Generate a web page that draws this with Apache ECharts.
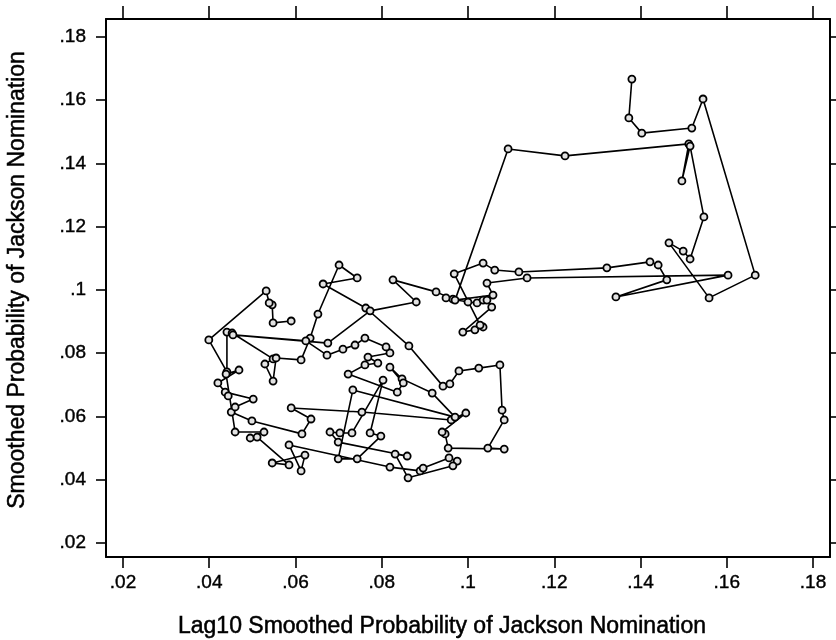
<!DOCTYPE html>
<html>
<head>
<meta charset="utf-8">
<script src="https://cdn.jsdelivr.net/npm/echarts@6/dist/echarts.min.js"></script>
<style>
  html, body { margin: 0; padding: 0; background: #fff; }
  #chart { width: 836px; height: 640px; }
</style>
</head>
<body>
<div id="chart"></div>
<script>
// tick positions (both axes use the same .02 steps)
const tickVals = [0.02, 0.04, 0.06, 0.08, 0.10, 0.12, 0.14, 0.16, 0.18];

// x: lag10 smoothed probability, y: smoothed probability, in path order
const lagProb = [
  // lower loop
  0.0590, 0.0548, 0.0546, 0.0539, 0.0532, 0.0399, 0.0441, 0.0441, 0.0453, 0.0548,
  0.0529, 0.0548, 0.0555, 0.0613, 0.0634, 0.0652, 0.0701, 0.0743, 0.0664, 0.0763,
  0.0863, 0.0942, 0.0958, 0.0979, 0.1025, 0.1074, 0.1079, 0.1084, 0.1046, 0.1084,
  0.0954, 0.0947, 0.0940, 0.0995, 0.0961, 0.0754, 0.0590, 0.0636, 0.0615, 0.0499,
  0.0451, 0.0460, 0.0502, 0.0437, 0.0444, 0.0420, 0.0469, 0.0439, 0.0460, 0.0527,
  0.0495, 0.0511, 0.0585, 0.0546, 0.0622, 0.0613, 0.0585, 0.0819, 0.0889, 0.0896,
  0.0956, 0.0975, 0.0965, 0.0861, 0.0831, 0.0859, 0.0699, 0.0680, 0.0703, 0.0731,
  0.0803, 0.0773, 0.0798, 0.0743, 0.0699,
  // middle
  0.0733, 0.0970, 0.0917, 0.0847, 0.0819, 0.0850, 0.0836, 0.0722, 0.0761, 0.0791,
  0.0768, 0.0819, 0.0810, 0.0761, 0.0738, 0.0710, 0.0673, 0.0624, 0.0455, 0.0675,
  0.0773, 0.0880, 0.0826, 0.0926, 0.0965, 0.0949, 0.1000, 0.1021, 0.1035, 0.1044,
  0.1055, 0.0988, 0.1016, 0.1035, 0.1028,
  // right band near .1
  0.0968, 0.1035, 0.1062, 0.1118, 0.1322, 0.1422, 0.1441, 0.1461, 0.1343, 0.1603,
  0.1137, 0.1044, 0.1058, 0.0970,
  // upper excursion
  0.1093, 0.1225, 0.1512, 0.1496, 0.1515, 0.1547, 0.1515, 0.1499, 0.1466, 0.1559,
  0.1666, 0.1545, 0.1519, 0.1403, 0.1373, 0.1380
];
const smoothProb = [
  // lower loop
  0.0902, 0.0896, 0.0953, 0.0959, 0.0997, 0.0842, 0.0741, 0.0867, 0.0864, 0.0782,
  0.0766, 0.0712, 0.0785, 0.0779, 0.0848, 0.0924, 0.1079, 0.1038, 0.1019, 0.0943,
  0.0823, 0.0696, 0.0703, 0.0744, 0.0753, 0.0763, 0.0620, 0.0589, 0.0500, 0.0497,
  0.0500, 0.0545, 0.0551, 0.0611, 0.0589, 0.0614, 0.0627, 0.0592, 0.0545, 0.0586,
  0.0614, 0.0630, 0.0655, 0.0677, 0.0665, 0.0706, 0.0747, 0.0734, 0.0551, 0.0551,
  0.0532, 0.0535, 0.0447, 0.0453, 0.0478, 0.0428, 0.0510, 0.0440, 0.0428, 0.0437,
  0.0469, 0.0459, 0.0444, 0.0406, 0.0481, 0.0475, 0.0519, 0.0551, 0.0548, 0.0548,
  0.0715, 0.0548, 0.0538, 0.0466, 0.0466,
  // middle
  0.0684, 0.0598, 0.0674, 0.0719, 0.0756, 0.0706, 0.0677, 0.0734, 0.0763, 0.0769,
  0.0788, 0.0801, 0.0820, 0.0848, 0.0826, 0.0813, 0.0794, 0.0839, 0.0858, 0.0832,
  0.0934, 0.0962, 0.1032, 0.0994, 0.0971, 0.0975, 0.0962, 0.0959, 0.0968, 0.0968,
  0.0946, 0.0867, 0.0874, 0.0883, 0.0889,
  // right band near .1
  0.1051, 0.1085, 0.1063, 0.1057, 0.1070, 0.1089, 0.1079, 0.1032, 0.0978, 0.1047,
  0.1038, 0.1022, 0.0984, 0.0968,
  // upper excursion
  0.1446, 0.1424, 0.1462, 0.1345, 0.1455, 0.1231, 0.1098, 0.1123, 0.1149, 0.0975,
  0.1047, 0.1604, 0.1512, 0.1496, 0.1544, 0.1667
];

const xTitle = 'Lag10 Smoothed Probability of Jackson Nomination';
const yTitle = 'Smoothed Probability of Jackson Nomination';

const fmt = v => String(+v.toFixed(2)).replace(/^0/, '');
const font = "'Liberation Sans', Arial, Helvetica, sans-serif";

function axis(pos, showLabel, tickLen) {
  const horiz = pos === 'bottom' || pos === 'top';
  return {
    type: 'value',
    position: pos,
    min: horiz ? 0.01606 : 0.01557,
    max: horiz ? 0.18394 : 0.18569,
    axisLine: { show: true, onZero: false, lineStyle: { color: '#000', width: 2 } },
    axisTick: { show: true, inside: false, length: tickLen, customValues: tickVals,
      lineStyle: { color: '#000', width: 1.6 } },
    axisLabel: { show: showLabel, customValues: tickVals, formatter: fmt,
      margin: (pos === 'left' ? 20 : 16), color: '#000', fontSize: 19, fontFamily: font,
      textBorderColor: '#000', textBorderWidth: 0.4 },
    splitLine: { show: false }
  };
}

const chart = echarts.init(document.getElementById('chart'), null, { renderer: 'canvas' });
chart.setOption({
  backgroundColor: '#fff',
  animation: false,
  grid: { left: 106, right: 6, top: 19, bottom: 83, containLabel: false },
  xAxis: [axis('bottom', true, 11), axis('top', false, 13)],
  yAxis: [axis('left', true, 10), axis('right', false, 8)],
  series: [{
    type: 'line',
    xAxisIndex: 0,
    yAxisIndex: 0,
    data: lagProb.map((x, i) => [x, smoothProb[i]]),
    symbol: 'circle',
    symbolSize: 7,
    showAllSymbol: true,
    lineStyle: { color: '#000', width: 1.6 },
    itemStyle: { color: '#e2e2e2', borderColor: '#000', borderWidth: 1.8 },
    emphasis: { disabled: true }
  }],
  graphic: [
    { type: 'text', x: 442, y: 627,
      style: { text: xTitle, font: '23px ' + font, fill: '#000', stroke: '#000', lineWidth: 0.5,
        textAlign: 'center', textVerticalAlign: 'middle' } },
    { type: 'text', x: 18, y: 280, rotation: Math.PI / 2,
      style: { text: yTitle, font: '23px ' + font, fill: '#000', stroke: '#000', lineWidth: 0.5,
        textAlign: 'center', textVerticalAlign: 'middle' } }
  ]
});
</script>
</body>
</html>
